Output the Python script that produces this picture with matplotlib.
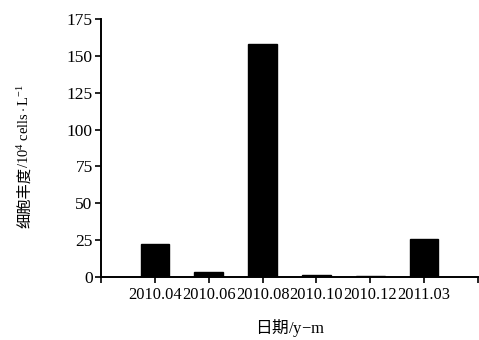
import matplotlib
matplotlib.use("Agg")
import matplotlib.pyplot as plt

categories = ["2010.04", "2010.06", "2010.08", "2010.10", "2010.12", "2011.03"]
values = [22.4, 3.2, 158.0, 1.3, 0.9, 25.8]
yticks = [0, 25, 50, 75, 100, 125, 150, 175]

plt.rcParams['mathtext.fontset'] = 'custom'
plt.rcParams['mathtext.rm'] = 'Liberation Serif'
plt.rcParams['mathtext.it'] = 'Liberation Serif:italic'

fig = plt.figure(figsize=(4.79, 3.40), dpi=100)
ax = fig.add_axes([101/479, 1-277/340, (478-101)/479, (277-19)/340])

pos = list(range(1, len(categories)+1))
ax.bar(pos, values, width=0.53, color='black', edgecolor='black')

ax.set_xlim(0, len(categories)+1)
ax.set_ylim(0, 175)
ax.set_xticks(range(0, len(categories)+2))
ax.set_xticklabels([''] + categories + [''], family='Liberation Serif', fontsize=11.8)
ax.set_yticks(yticks)
ax.set_yticklabels([str(v) for v in yticks], family='Liberation Serif', fontsize=12.5)

for s in ['top', 'right']:
    ax.spines[s].set_visible(False)
for s in ['left', 'bottom']:
    ax.spines[s].set_linewidth(1.4)
ax.tick_params(axis='both', direction='out', length=4, width=1.2, pad=2)
ax.tick_params(axis='x', pad=3)

# y label: Chinese part (sans) + units (serif), stacked along the rotated line
fig.text(25/479, 1-228/340, '细胞丰度', rotation=90, ha='center', va='bottom',
         family='Noto Sans CJK SC', fontsize=11)
fig.text(24/479, 1-168/340, '$\\mathrm{/10^4\\ cells\\cdot L^{-1}}$', rotation=90,
         ha='center', va='bottom', fontsize=10.5)

fig.text(290/479, 1-328/340, '日期$\\mathrm{/y{-}m}$', ha='center', va='center',
         family='Noto Sans CJK SC', fontsize=12)

fig.savefig('out.png', dpi=100)
